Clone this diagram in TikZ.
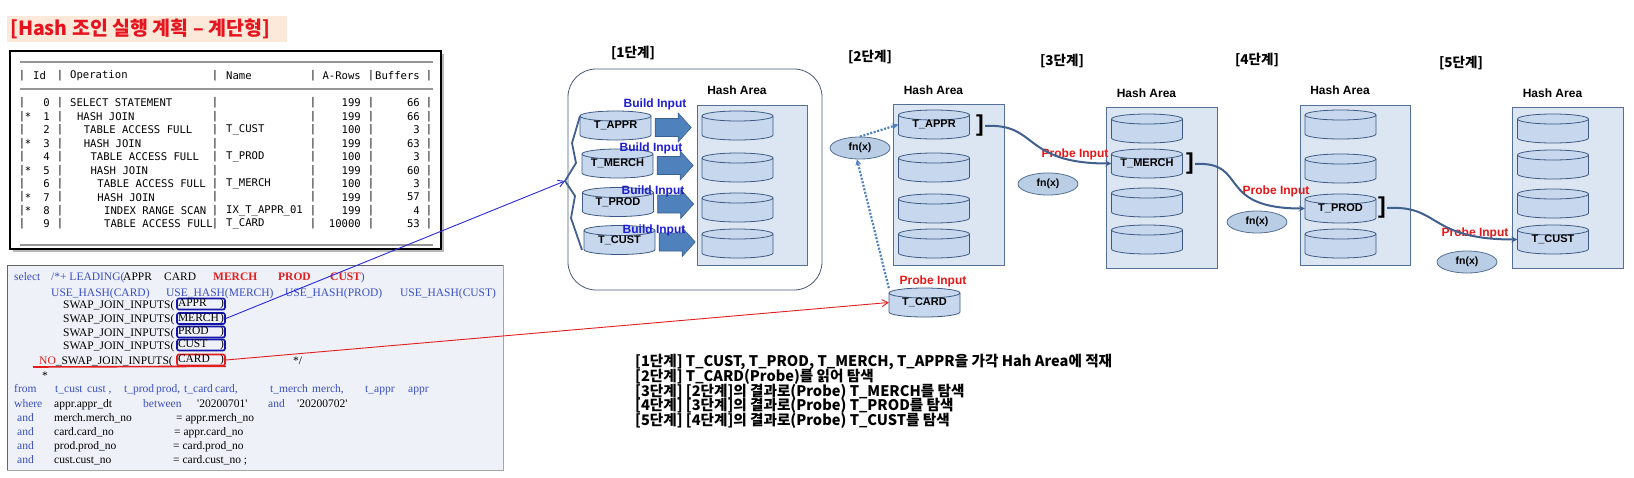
\documentclass[tikz,border=0pt]{standalone}
\usepackage{fontspec}
\usepackage{xcolor}
\setmainfont{Liberation Serif}
\newfontfamily\krfont{Noto Sans CJK KR}
\newfontfamily\labfont{Liberation Sans}
\newfontfamily\tabfont{DejaVu Sans Mono}
\usetikzlibrary{shapes.geometric, arrows.meta, calc}

\definecolor{areafill}{RGB}{220,230,242}
\definecolor{arealine}{RGB}{84,112,150}
\definecolor{cylfill}{RGB}{199,216,238}
\definecolor{cylline}{RGB}{62,90,130}
\definecolor{fnfill}{RGB}{185,205,229}
\definecolor{blockfill}{RGB}{79,129,189}
\definecolor{blockline}{RGB}{58,96,142}
\definecolor{probeline}{RGB}{65,96,142}
\definecolor{dotblue}{RGB}{79,129,189}
\definecolor{probered}{RGB}{232,22,22}
\definecolor{buildblue}{RGB}{30,30,210}
\definecolor{titlered}{RGB}{230,20,30}
\definecolor{titlebg}{RGB}{253,233,217}
\definecolor{sqlblue}{RGB}{58,78,200}
\definecolor{sqlred}{RGB}{226,30,30}
\definecolor{sqlbg}{RGB}{238,241,247}
\definecolor{swblue}{RGB}{20,20,170}
\definecolor{linkblue}{RGB}{40,40,220}
\definecolor{rulegray}{RGB}{150,150,150}
\definecolor{stageline}{RGB}{72,90,118}

\newcommand\col[2]{\makebox[#1pt][l]{#2}}
\newcommand\kw[1]{\textcolor{sqlblue}{#1}}
\newcommand\hl[1]{\textcolor{sqlred}{\bfseries #1}}
\newcommand\qt{\textquotesingle}
% bucket drawn as a cylinder, with a named node over it
\newcommand\bucket[4]{%
  \filldraw[cylbody] ({#2-35.5},{#3-9.5}) -- ({#2-35.5},{#3+9.5})
    arc[start angle=180, end angle=360, x radius=35.5pt, y radius=5pt]
    -- ({#2+35.5},{#3-9.5})
    arc[start angle=0, end angle=180, x radius=35.5pt, y radius=5pt] -- cycle;
  \draw[cylbody, fill=none] ({#2+35.5},{#3-9.5})
    arc[start angle=0, end angle=-180, x radius=35.5pt, y radius=5pt];
  \node[cyltxt] (#1) at (#2,#3) {\raisebox{-2.5pt}{#4}};%
}

\begin{document}
\begin{tikzpicture}[x=1pt, y=-1pt,
  cylbody/.style={draw=cylline, fill=cylfill, line width=0.8pt},
  cyltxt/.style={minimum width=71pt, minimum height=29pt, inner sep=0pt,
    font=\labfont\bfseries\fontsize{11}{12}\selectfont},
  harea/.style={draw=arealine, fill=areafill, line width=0.8pt, inner sep=0pt},
  hashlab/.style={font=\labfont\bfseries\fontsize{12}{12}\selectfont},
  fnx/.style={ellipse, draw=arealine, fill=fnfill, line width=0.8pt, minimum width=60pt,
    minimum height=22pt, inner sep=0pt, font=\labfont\bfseries\fontsize{10.5}{11}\selectfont},
  probelab/.style={text=probered, font=\labfont\bfseries\fontsize{12}{13}\selectfont},
  buildlab/.style={text=buildblue, font=\labfont\bfseries\fontsize{12}{12}\selectfont},
  stagelab/.style={font=\krfont\bfseries\fontsize{13.5}{14}\selectfont},
  steptxt/.style={anchor=west, inner sep=0pt, font=\krfont\bfseries\fontsize{14.6}{15}\selectfont},
  brk/.style={inner sep=1pt, font=\labfont\bfseries\fontsize{23}{23}\selectfont},
  probearrow/.style={draw=probeline, line width=2pt, -{Stealth[length=6pt, width=6pt]}},
  dotarrow/.style={draw=dotblue, line width=2.2pt, dash pattern=on 2pt off 1.6pt,
    -{Stealth[length=6pt, width=6pt]}},
  blockarr/.style={fill=blockfill, draw=blockline, line width=0.6pt},
  tabtxt/.style={inner sep=0pt, font=\tabfont\fontsize{10.6}{12}\selectfont},
  sqltxt/.style={anchor=base west, inner sep=0pt, font=\fontsize{11.5}{12}\selectfont},
  swbox/.style={draw=swblue, line width=1.6pt, rounded corners=2pt, inner xsep=1pt,
    inner ysep=0pt, minimum height=11pt, text width=46pt, font=\fontsize{11.5}{12}\selectfont},
  linkarrow/.style={line width=0.9pt, -{Straight Barb[length=6pt, width=7pt]}}
]
\useasboundingbox (0,0) rectangle (1634,477);

% Title
\fill[titlebg] (7,16) rectangle (287,42);
\node[anchor=west, inner sep=0pt, text=titlered, font=\krfont\bfseries\fontsize{19.5}{19.5}\selectfont]
  (title) at (10,29) {[Hash 조인 실행 계획 – 계단형]};

% Execution plan table
\fill[gray!55] (13,54) rectangle (444,252);
\draw[fill=white, line width=1.4pt] (10,51) rectangle (441,249);
\foreach \ly in {62,89,245}
  \draw[rulegray, line width=1.2pt] (20,\ly) -- (433,\ly);
\node[tabtxt, anchor=west] (hId) at (33,76) {Id};
\node[tabtxt, anchor=west] (hOp) at (70,76) {Operation};
\node[tabtxt, anchor=west] (hName) at (226,76) {Name};
\node[tabtxt, anchor=east] (hRows) at (361,76) {A-Rows};
\node[tabtxt, anchor=east] (hBuf) at (420,76) {Buffers};
\foreach \bx [count=\k] in {22,60,215,313,371,429}
  \node[tabtxt] (hbar\k) at (\bx,76) {|};
\foreach \r/\st/\lv/\op/\nm/\ar/\bu in {
    0//0/SELECT STATEMENT//199/66,
    1/*/1/HASH JOIN//199/66,
    2//2/TABLE ACCESS FULL/T\_CUST/100/3,
    3/*/2/HASH JOIN//199/63,
    4//3/TABLE ACCESS FULL/T\_PROD/100/3,
    5/*/3/HASH JOIN//199/60,
    6//4/TABLE ACCESS FULL/T\_MERCH/100/3,
    7/*/4/HASH JOIN//199/57,
    8/*/5/INDEX RANGE SCAN/IX\_T\_APPR\_01/199/4,
    9//5/TABLE ACCESS FULL/T\_CARD/10000/53}
{
  \pgfmathsetmacro\ry{103+13.45*\r}
  \node[tabtxt] (st\r) at (28,\ry) {\st};
  \node[tabtxt, anchor=east] (id\r) at (50,\ry) {\r};
  \node[tabtxt, anchor=west] (op\r) at ({70+6.8*\lv},\ry) {\op};
  \node[tabtxt, anchor=west] (nm\r) at (226,\ry) {\nm};
  \node[tabtxt, anchor=east] (ar\r) at (361,\ry) {\ar};
  \node[tabtxt, anchor=east] (bu\r) at (420,\ry) {\bu};
  \foreach \bx [count=\k] in {22,60,215,313,371,429}
    \node[tabtxt] (bar\r-\k) at (\bx,\ry) {|};
}

% SQL text
\draw[draw=gray!70, fill=sqlbg, line width=0.8pt] (7,265) rectangle (503,470);
\draw[gray!80!black, line width=1pt] (7,470) -- (7,265) -- (503,265);
\node[sqltxt] (sq1) at (14,280) {\col{37}{\kw{select}}\col{72}{\kw{/*+ LEADING(}}\col{41}{APPR}\col{49}{CARD}\col{65}{\hl{MERCH}}\col{52}{\hl{PROD}}\hl{CUST}\kw{)}};
\node[sqltxt] (sq2) at (51,296) {\kw{\col{115}{USE\_HASH(CARD)}\col{119}{USE\_HASH(MERCH)}\col{115}{USE\_HASH(PROD)}USE\_HASH(CUST)}};
\foreach \t/\y [count=\i] in {APPR/304, MERCH/318.5, PROD/332, CUST/345} {
  \node[sqltxt] (sw\i txt) at (63,\y+4) {SWAP\_JOIN\_INPUTS(};
  \node[swbox] (sw\i) at (201,\y) {\t\hfill)};
}
\node[sqltxt] (swctxt) at (39,364) {\textcolor{sqlred}{NO}\_SWAP\_JOIN\_INPUTS(};
\node[swbox, draw=sqlred] (swc) at (201,360) {CARD\hfill)};
\draw[sqlred, line width=1.6pt] (33,367) -- (swc.south east);
\node[sqltxt] (sqend) at (293,364) {*/};
\node[sqltxt] (sqstar) at (42,379) {*};
\node[sqltxt] (sq9) at (14,392) {\kw{\col{41}{from}\col{32}{t\_cust}\col{37}{cust ,}\col{32}{t\_prod}\col{28}{prod,}\col{31}{t\_card}\col{55}{card,}\col{42}{t\_merch}\col{53}{merch,}\col{43}{t\_appr}appr}};
\node[sqltxt] (sq10) at (14,407) {\col{40}{\kw{where}}\col{89}{appr.appr\_dt}\col{54}{\kw{between}}\col{71}{\qt20200701\qt}\col{29}{\kw{and}}\qt20200702\qt};
\node[sqltxt] (sq11) at (17,421) {\col{37}{\kw{and}}\col{122}{merch.merch\_no}= appr.merch\_no};
\node[sqltxt] (sq12) at (17,435) {\col{37}{\kw{and}}\col{120}{card.card\_no}= appr.card\_no};
\node[sqltxt] (sq13) at (17,449) {\col{37}{\kw{and}}\col{119}{prod.prod\_no}= card.prod\_no};
\node[sqltxt] (sq14) at (17,463) {\col{37}{\kw{and}}\col{119}{cust.cust\_no}= card.cust\_no ;};

% Stage 1 box
\draw[draw=stageline, line width=0.8pt, rounded corners=28pt] (568,69) rectangle (822,290);

% Hash areas with their buckets
\foreach \s/\hx/\hy/\ys/\lr/\lt in {
    1/752.5/185.5/{125.5,167.5,207.5,243.5}/0/{},
    2/949/185/{124.5,167.5,208.5,243.5}/1/T\_APPR,
    3/1162/188/{128.5,163.5,202.5,239.5}/2/T\_MERCH,
    4/1355.5/185.5/{124.5,168.5,208.5,243.5}/3/T\_PROD,
    5/1568/188/{128.5,164.5,203.5,239.5}/4/T\_CUST}
{
  \node[harea, minimum width=110.5pt, minimum height=160.5pt] (ha\s) at (\hx,\hy) {};
  \node[hashlab] (hl\s) at ({\hx-15.5},{\hy-95}) {Hash Area};
  \foreach \y [count=\r] in \ys
    {\bucket{h\s\r}{\hx-15}{\y}{\ifnum\r=\lr\relax\lt\fi}}
}

% Stage 1 build inputs
\foreach \t/\x/\y [count=\i] in {T\_APPR/615.5/125.5, T\_MERCH/617.5/163.5, T\_PROD/618/202, T\_CUST/619.5/240}
  {\bucket{tb\i}{\x}{\y}{\t}}
\foreach \i in {1,...,4}
  \filldraw[blockarr] ($(tb\i.east)+(4,2)$) ++(0,-9) -- ++(23,0) -- ++(0,-5.5) -- ++(13,14.5)
    -- ++(-13,14.5) -- ++(0,-5.5) -- ++(-23,0) -- cycle;
\foreach \x/\y [count=\i] in {655/104, 651/148, 653/191, 654/230}
  \node[buildlab] (bl\i) at (\x,\y) {Build Input};
\draw[draw=probeline, line width=1.8pt, line join=round] (580,116) -- (572,143) -- (576,163)
  -- (565,181) coordinate (braceTip) -- (575,196) -- (571,218) -- (582,250);

% Stage labels
\foreach \s/\x/\y in {1/633/53, 2/870/57, 3/1062/61, 4/1257/60, 5/1461/63}
  \node[stagelab] (sl\s) at (\x,\y) {[\s{}단계]};

% Probe side
\bucket{tcard}{924.5}{302.5}{T\_CARD}
\node[probelab] (pl2) at (933,281) {Probe Input};
\node[probelab] (pl3) at (1075,154) {Probe Input};
\node[probelab] (pl4) at (1276,191) {Probe Input};
\node[probelab] (pl5) at (1475,233) {Probe Input};
\node[fnx] (fn2) at (860,148) {fn(x)};
\node[fnx] (fn3) at (1048,184) {fn(x)};
\node[fnx] (fn4) at (1257,222) {fn(x)};
\node[fnx] (fn5) at (1467,262) {fn(x)};
\node[brk] (br2) at (980,126) {]};
\node[brk] (br3) at (1190,164) {]};
\node[brk] (br4) at (1382,208) {]};

\draw[dotarrow] (tcard.158) -- (fn2.255);
\draw[dotarrow] (fn2.north) -- (h21.west);
\draw[probearrow] (br2.east) .. controls +(54,-3) and +(-90,0) .. (h32.west);
\draw[probearrow] (br3.east) .. controls +(54,-3) and +(-90,0) .. (h43.west);
\draw[probearrow] (br4.east) .. controls +(54,-3) and +(-90,0) .. (h54.west);

% Hints to the diagram
\draw[linkarrow, draw=linkblue] (sw2.east) -- (braceTip);
\draw[linkarrow, draw=sqlred] (swc.east) -- (tcard.west);

% Step notes
\foreach \t [count=\i] in {
    {[1단계] T\_CUST, T\_PROD, T\_MERCH, T\_APPR을 가각 Hah Area에 적재},
    {[2단계] T\_CARD(Probe)를 읽어 탐색},
    {[3단계] [2단계]의 결과로(Probe) T\_MERCH를 탐색},
    {[4단계] [3단계]의 결과로(Probe) T\_PROD를 탐색},
    {[5단계] [4단계]의 결과로(Probe) T\_CUST를 탐색}}
  \node[steptxt] (note\i) at (635,{347+14.8*\i}) {\t};
\end{tikzpicture}
\end{document}
